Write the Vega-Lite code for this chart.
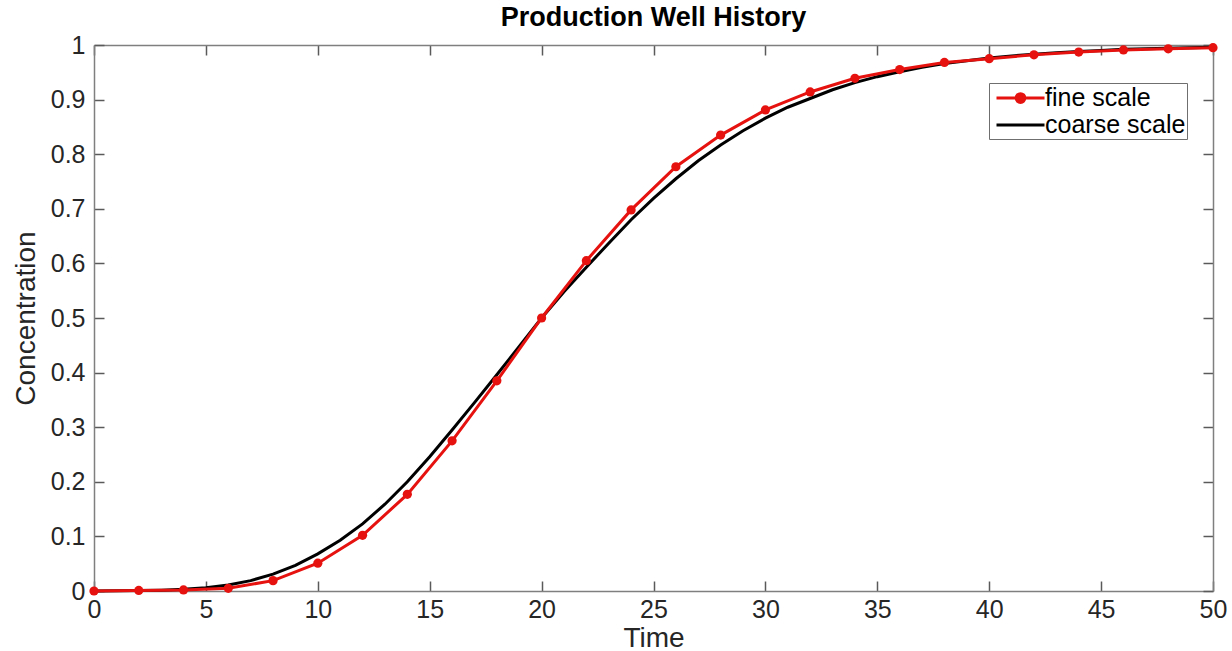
{
  "$schema": "https://vega.github.io/schema/vega-lite/v6.json",
  "autosize": {"type": "none"},
  "width": 1119,
  "height": 546,
  "padding": {"left": 94, "top": 45, "right": 19, "bottom": 60},
  "background": "white",
  "title": {
    "text": "Production Well History",
    "font": "Liberation Sans",
    "fontSize": 27,
    "fontWeight": "bold",
    "color": "#000000",
    "offset": 1
  },
  "config": {
    "view": {"stroke": null},
    "font": "Liberation Sans",
    "axis": {
      "grid": false,
      "domainColor": "#7f7f7f",
      "domainWidth": 1.5,
      "tickColor": "#5a5a5a",
      "tickWidth": 1.5,
      "tickSize": -10,
      "labelFlush": false,
      "labelOverlap": false,
      "labelFont": "Liberation Sans",
      "labelFontSize": 25,
      "labelColor": "#262626",
      "titleFont": "Liberation Sans",
      "titleFontSize": 28,
      "titleFontWeight": "normal",
      "titleColor": "#262626"
    }
  },
  "data": {
    "values": [
      {"time": 0, "conc": 0.0, "series": "coarse scale"},
      {"time": 1, "conc": 0.0003, "series": "coarse scale"},
      {"time": 2, "conc": 0.0007, "series": "coarse scale"},
      {"time": 3, "conc": 0.0015, "series": "coarse scale"},
      {"time": 4, "conc": 0.003, "series": "coarse scale"},
      {"time": 5, "conc": 0.006, "series": "coarse scale"},
      {"time": 6, "conc": 0.011, "series": "coarse scale"},
      {"time": 7, "conc": 0.019, "series": "coarse scale"},
      {"time": 8, "conc": 0.031, "series": "coarse scale"},
      {"time": 9, "conc": 0.047, "series": "coarse scale"},
      {"time": 10, "conc": 0.068, "series": "coarse scale"},
      {"time": 11, "conc": 0.093, "series": "coarse scale"},
      {"time": 12, "conc": 0.123, "series": "coarse scale"},
      {"time": 13, "conc": 0.159, "series": "coarse scale"},
      {"time": 14, "conc": 0.2, "series": "coarse scale"},
      {"time": 15, "conc": 0.246, "series": "coarse scale"},
      {"time": 16, "conc": 0.295, "series": "coarse scale"},
      {"time": 17, "conc": 0.345, "series": "coarse scale"},
      {"time": 18, "conc": 0.396, "series": "coarse scale"},
      {"time": 19, "conc": 0.448, "series": "coarse scale"},
      {"time": 20, "conc": 0.5, "series": "coarse scale"},
      {"time": 21, "conc": 0.548, "series": "coarse scale"},
      {"time": 22, "conc": 0.593, "series": "coarse scale"},
      {"time": 23, "conc": 0.637, "series": "coarse scale"},
      {"time": 24, "conc": 0.68, "series": "coarse scale"},
      {"time": 25, "conc": 0.719, "series": "coarse scale"},
      {"time": 26, "conc": 0.755, "series": "coarse scale"},
      {"time": 27, "conc": 0.788, "series": "coarse scale"},
      {"time": 28, "conc": 0.817, "series": "coarse scale"},
      {"time": 29, "conc": 0.843, "series": "coarse scale"},
      {"time": 30, "conc": 0.866, "series": "coarse scale"},
      {"time": 31, "conc": 0.886, "series": "coarse scale"},
      {"time": 32, "conc": 0.902, "series": "coarse scale"},
      {"time": 33, "conc": 0.918, "series": "coarse scale"},
      {"time": 34, "conc": 0.931, "series": "coarse scale"},
      {"time": 35, "conc": 0.942, "series": "coarse scale"},
      {"time": 36, "conc": 0.951, "series": "coarse scale"},
      {"time": 37, "conc": 0.959, "series": "coarse scale"},
      {"time": 38, "conc": 0.966, "series": "coarse scale"},
      {"time": 39, "conc": 0.971, "series": "coarse scale"},
      {"time": 40, "conc": 0.976, "series": "coarse scale"},
      {"time": 41, "conc": 0.98, "series": "coarse scale"},
      {"time": 42, "conc": 0.983, "series": "coarse scale"},
      {"time": 43, "conc": 0.986, "series": "coarse scale"},
      {"time": 44, "conc": 0.988, "series": "coarse scale"},
      {"time": 45, "conc": 0.99, "series": "coarse scale"},
      {"time": 46, "conc": 0.992, "series": "coarse scale"},
      {"time": 47, "conc": 0.993, "series": "coarse scale"},
      {"time": 48, "conc": 0.994, "series": "coarse scale"},
      {"time": 49, "conc": 0.995, "series": "coarse scale"},
      {"time": 50, "conc": 0.996, "series": "coarse scale"},
      {"time": 0, "conc": 0.0, "series": "fine scale"},
      {"time": 2, "conc": 0.001, "series": "fine scale"},
      {"time": 4, "conc": 0.002, "series": "fine scale"},
      {"time": 6, "conc": 0.005, "series": "fine scale"},
      {"time": 8, "conc": 0.019, "series": "fine scale"},
      {"time": 10, "conc": 0.051, "series": "fine scale"},
      {"time": 12, "conc": 0.102, "series": "fine scale"},
      {"time": 14, "conc": 0.177, "series": "fine scale"},
      {"time": 16, "conc": 0.275, "series": "fine scale"},
      {"time": 18, "conc": 0.385, "series": "fine scale"},
      {"time": 20, "conc": 0.5, "series": "fine scale"},
      {"time": 22, "conc": 0.605, "series": "fine scale"},
      {"time": 24, "conc": 0.698, "series": "fine scale"},
      {"time": 26, "conc": 0.777, "series": "fine scale"},
      {"time": 28, "conc": 0.835, "series": "fine scale"},
      {"time": 30, "conc": 0.881, "series": "fine scale"},
      {"time": 32, "conc": 0.914, "series": "fine scale"},
      {"time": 34, "conc": 0.939, "series": "fine scale"},
      {"time": 36, "conc": 0.955, "series": "fine scale"},
      {"time": 38, "conc": 0.968, "series": "fine scale"},
      {"time": 40, "conc": 0.975, "series": "fine scale"},
      {"time": 42, "conc": 0.982, "series": "fine scale"},
      {"time": 44, "conc": 0.987, "series": "fine scale"},
      {"time": 46, "conc": 0.991, "series": "fine scale"},
      {"time": 48, "conc": 0.993, "series": "fine scale"},
      {"time": 50, "conc": 0.995, "series": "fine scale"}
    ]
  },
  "resolve": {"axis": {"x": "independent", "y": "independent"}},
  "layer": [
    {
      "mark": {"type": "line", "strokeWidth": 3},
      "encoding": {
        "x": {
          "field": "time", "type": "quantitative",
          "scale": {"domain": [0, 50], "nice": false, "zero": false},
          "axis": {"values": [0, 5, 10, 15, 20, 25, 30, 35, 40, 45, 50], "title": "Time", "titlePadding": 2, "labelPadding": 16}
        },
        "y": {
          "field": "conc", "type": "quantitative",
          "scale": {"domain": [0, 1], "nice": false, "zero": false},
          "axis": {"values": [0, 0.1, 0.2, 0.3, 0.4, 0.5, 0.6, 0.7, 0.8, 0.9, 1], "format": ".1~f", "title": "Concentration", "titlePadding": 10, "labelPadding": 19}
        },
        "color": {
          "field": "series", "type": "nominal",
          "scale": {"domain": ["fine scale", "coarse scale"], "range": ["#e5120f", "#000000"]},
          "legend": {
            "title": null,
            "orient": "none",
            "legendX": 895,
            "legendY": 38,
            "direction": "vertical",
            "fillColor": "white",
            "strokeColor": "#6f6f6f",
            "padding": 1,
            "rowPadding": 0,
            "labelFont": "Liberation Sans",
            "labelFontSize": 25,
            "labelColor": "#000000",
            "labelOffset": 27,
            "symbolType": "stroke",
            "symbolStrokeWidth": 3,
            "symbolSize": 625,
            "encode": {
              "symbols": {
                "update": {
                  "shape": {"signal": "datum.value === 'fine scale' ? 'M-0.6,0H3.24M1.67,0A0.35,0.35 0 1,1 0.97,0A0.35,0.35 0 1,1 1.67,0Z' : 'M-0.6,0H3.24'"},
                  "fill": {"signal": "datum.value === 'fine scale' ? '#e5120f' : 'transparent'"}
                }
              }
            }
          }
        }
      }
    },
    {
      "transform": [{"filter": "datum.series === 'fine scale'"}],
      "mark": {"type": "point", "filled": true, "opacity": 1, "size": 85},
      "encoding": {
        "x": {
          "field": "time", "type": "quantitative",
          "scale": {"domain": [0, 50], "nice": false, "zero": false},
          "axis": {"orient": "top", "values": [0, 5, 10, 15, 20, 25, 30, 35, 40, 45, 50], "labels": false, "title": null}
        },
        "y": {
          "field": "conc", "type": "quantitative",
          "scale": {"domain": [0, 1], "nice": false, "zero": false},
          "axis": {"orient": "right", "values": [0, 0.1, 0.2, 0.3, 0.4, 0.5, 0.6, 0.7, 0.8, 0.9, 1], "labels": false, "title": null}
        },
        "color": {"field": "series", "type": "nominal", "legend": null}
      }
    }
  ]
}
